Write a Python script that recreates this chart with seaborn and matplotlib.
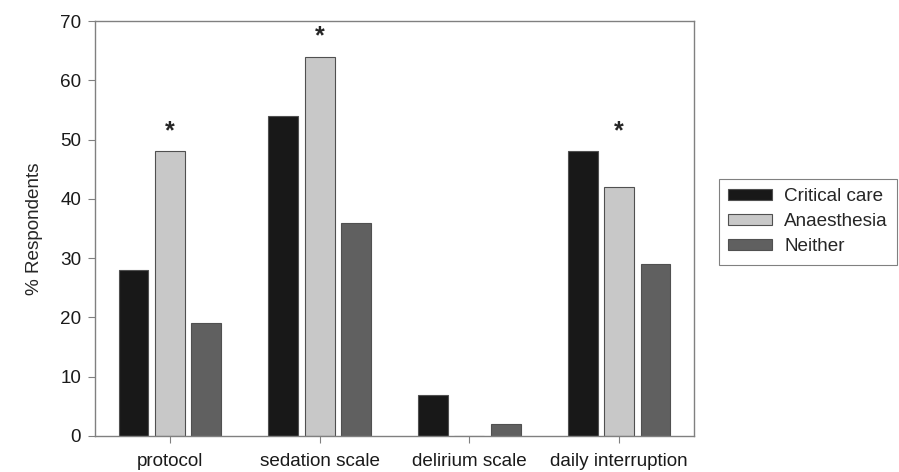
import pandas as pd
import matplotlib
matplotlib.use("Agg")
import matplotlib.pyplot as plt
import seaborn as sns

# Values
categories = ["protocol", "sedation scale", "delirium scale", "daily interruption"]
groups = ["Critical care", "Anaesthesia", "Neither"]
critical_care = [28, 54, 7, 48]
anaesthesia = [48, 64, 0, 42]
neither = [19, 36, 2, 29]
star_cats = ["protocol", "sedation scale", "daily interruption"]

colors = ["#181818", "#c8c8c8", "#606060"]

# Long-form table for seaborn
df = pd.DataFrame({
    "category": categories * 3,
    "group": [g for g in groups for _ in categories],
    "value": critical_care + anaesthesia + neither,
})

sns.set_style("white")
plt.rcParams["font.family"] = ["Liberation Sans", "DejaVu Sans"]
fs = 13.6

fig = plt.figure(figsize=(8.99, 4.72), dpi=100)
ax = fig.add_axes([95 / 899, 36 / 472, 599 / 899, 415 / 472])

sns.barplot(
    data=df, x="category", y="value", hue="group",
    order=categories, hue_order=groups, palette=colors,
    width=0.727, gap=0.18, edgecolor="#505050", linewidth=0.8,
    saturation=1, ax=ax, legend=True,
)

# Significance stars above each marked group
for cat in star_cats:
    i = categories.index(cat)
    top = max(critical_care[i], anaesthesia[i], neither[i])
    ax.text(i, top + 3.4, "*", ha="center", va="center", fontsize=18,
            fontweight="bold")

ax.set_xlim(-0.5, 3.5)
ax.set_ylim(0, 70)
ax.set_yticks(range(0, 71, 10))
ax.set_xlabel("")
ax.set_ylabel("% Respondents", fontsize=fs, labelpad=12)

for side in ["left", "right", "top", "bottom"]:
    ax.spines[side].set_visible(True)
    ax.spines[side].set_color("#808080")
    ax.spines[side].set_linewidth(1.0)

ax.tick_params(axis="both", which="major", direction="out", length=5,
               width=0.8, color="#808080", labelsize=fs, labelcolor="#1a1a1a")
ax.tick_params(axis="y", pad=5)
ax.tick_params(axis="x", pad=7)
ax.tick_params(bottom=True, left=True)

leg = ax.legend(
    loc="upper left", bbox_to_anchor=(719 / 899, 1 - 179 / 472),
    bbox_transform=fig.transFigure, borderaxespad=0, fontsize=fs,
    frameon=True, fancybox=False, edgecolor="#808080", framealpha=1,
    handlelength=2.3, handleheight=0.5, labelspacing=0.42,
    handletextpad=0.65, borderpad=0.5,
)
leg.get_frame().set_linewidth(0.8)

fig.savefig("out.png", dpi=100)
